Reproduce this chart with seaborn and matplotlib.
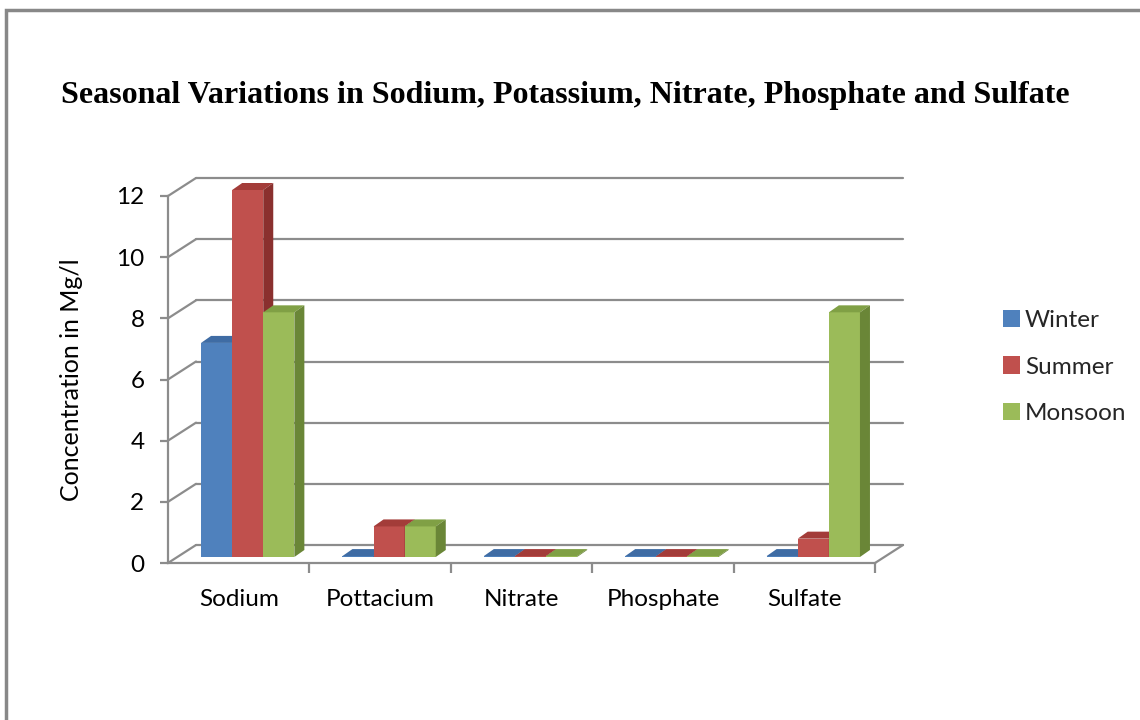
import numpy as np
import pandas as pd
import seaborn as sns
import matplotlib.pyplot as plt
from matplotlib.patches import Polygon, Rectangle, Patch
from matplotlib.transforms import ScaledTranslation

# values (mg/l)
minerals = ['Sodium', 'Pottacium', 'Nitrate', 'Phosphate', 'Sulfate']
seasons = ['Winter', 'Summer', 'Monsoon']
winter = [7.0, 0.03, 0.03, 0.03, 0.03]
summer = [12.0, 1.0, 0.03, 0.03, 0.6]
monsoon = [8.0, 1.0, 0.03, 0.03, 8.0]
y_ticks = [0, 2, 4, 6, 8, 10, 12]

front_col = ['#4F81BD', '#C0504D', '#9BBB59']
top_col = ['#3F6CA4', '#A33C39', '#80A045']
side_col = ['#355A87', '#8A302E', '#6A8637']
grid_col = '#8C8C8C'

df = pd.DataFrame({
    'mineral': minerals * 3,
    'season': np.repeat(seasons, len(minerals)),
    'value': winter + summer + monsoon,
})

sns.set_style('white')
plt.rcParams['font.family'] = ['Lato', 'DejaVu Sans']

W, H = 1140, 720
fig = plt.figure(figsize=(W / 100, H / 100), dpi=100)
ax = fig.add_axes([168 / W, 157 / H, 707 / W, 367 / H])

sns.barplot(data=df, x='mineral', y='value', hue='season', hue_order=seasons,
            palette=front_col, width=0.66, saturation=1, legend=False,
            linewidth=0, edgecolor='none', ax=ax, zorder=3)
ax.set_xlim(-0.5, 4.5)
ax.set_ylim(0, 12)

# pixel -> data conversion
px_x = 5 / 707
px_y = 12 / 367

# back wall / floor (pseudo 3D)
wall_dx, wall_dy = 28 * px_x, 18 * px_y
for v in y_ticks:
    ax.plot([-0.5 + wall_dx, 4.5 + wall_dx], [v + wall_dy, v + wall_dy],
            color=grid_col, lw=1.6, clip_on=False, zorder=1)
    ax.plot([-0.5, -0.5 + wall_dx], [v, v + wall_dy],
            color=grid_col, lw=1.6, clip_on=False, zorder=1)
ax.plot([4.5, 4.5 + wall_dx], [0, wall_dy], color=grid_col, lw=1.6,
        clip_on=False, zorder=1)

# bars get a little depth
shift = ax.transData + ScaledTranslation(9 / 100, 6 / 100, fig.dpi_scale_trans)
ddx, ddy = 10 * px_x, 7 * px_y
for i, cont in enumerate(ax.containers):
    for bar in cont:
        x, w, h = bar.get_x(), bar.get_width(), bar.get_height()
        z = 3 + i * 0.1
        bar.set_transform(shift)
        bar.set_zorder(z)
        bar.set_clip_on(False)
        ax.add_patch(Polygon([(x, h), (x + w, h), (x + w + ddx, h + ddy), (x + ddx, h + ddy)],
                             closed=True, facecolor=top_col[i], edgecolor='none',
                             transform=shift, zorder=z, clip_on=False))
        ax.add_patch(Polygon([(x + w, 0), (x + w + ddx, ddy), (x + w + ddx, h + ddy), (x + w, h)],
                             closed=True, facecolor=side_col[i], edgecolor='none',
                             transform=shift, zorder=z, clip_on=False))

for s in ['top', 'right']:
    ax.spines[s].set_visible(False)
for s in ['left', 'bottom']:
    ax.spines[s].set_color(grid_col)
    ax.spines[s].set_linewidth(1.6)

ax.set_yticks(y_ticks)
ax.set_xticks(range(len(minerals)))
ax.set_xticklabels(minerals)
ax.set_xticks([0.5, 1.5, 2.5, 3.5, 4.5], minor=True)
ax.tick_params(axis='y', left=True, length=6, width=1.6, color=grid_col,
               pad=11, labelsize=17.5, labelcolor='black')
ax.tick_params(axis='x', which='major', bottom=False, length=0, pad=19,
               labelsize=17.5, labelcolor='black')
ax.tick_params(axis='x', which='minor', bottom=True, length=7, width=1.6,
               color=grid_col)
ax.set_xlabel('')
ax.set_ylabel('Concentration in Mg/l', fontsize=18, labelpad=24, color='black')

handles = [Patch(facecolor=c, edgecolor='none') for c in front_col]
fig.legend(handles, seasons, loc='center left', bbox_to_anchor=(981 / W, 1 - 367 / H),
           frameon=False, fontsize=17.5, labelspacing=1.05, handlelength=0.7,
           handleheight=0.7, handletextpad=0.2)

fig.text(565 / W, 1 - 95 / H,
         'Seasonal Variations in Sodium, Potassium, Nitrate, Phosphate and Sulfate',
         family='Liberation Serif', fontweight='bold', fontsize=23,
         ha='center', va='center', color='black')

fig.patches.append(Rectangle((6 / W, -0.1), 1.2, 1.1 - 10 / H, transform=fig.transFigure,
                             fill=False, edgecolor='#888888', lw=2.5))

fig.savefig('out.png', dpi=100)
